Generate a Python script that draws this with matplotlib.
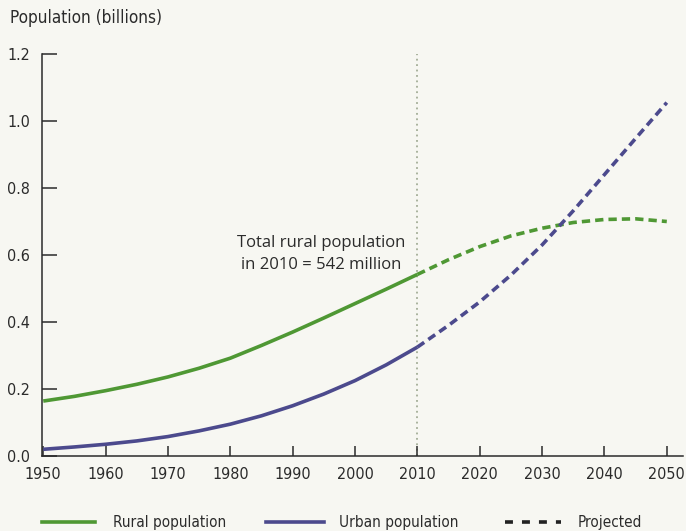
import matplotlib
matplotlib.use("Agg")
import matplotlib.pyplot as plt
from matplotlib.lines import Line2D

# values (billions)
years_hist = [1950, 1955, 1960, 1965, 1970, 1975, 1980, 1985, 1990, 1995, 2000, 2005, 2010]
rural_hist = [0.164, 0.178, 0.195, 0.214, 0.236, 0.262, 0.292, 0.330, 0.370, 0.412, 0.455, 0.498, 0.542]
urban_hist = [0.020, 0.027, 0.035, 0.045, 0.058, 0.075, 0.095, 0.120, 0.150, 0.185, 0.225, 0.272, 0.325]

years_proj = [2010, 2015, 2020, 2025, 2030, 2035, 2040, 2045, 2050]
rural_proj = [0.542, 0.586, 0.625, 0.657, 0.680, 0.697, 0.706, 0.708, 0.700]
urban_proj = [0.325, 0.390, 0.460, 0.540, 0.630, 0.732, 0.840, 0.948, 1.055]

xticks = list(range(1950, 2051, 10))
yticks = [0.0, 0.2, 0.4, 0.6, 0.8, 1.0, 1.2]

bg = "#f7f7f2"
green = "#4f9834"
purple = "#4c4a8d"
ink = "#2b2b2b"
narrow = dict(family="DejaVu Sans", stretch="condensed")

fig = plt.figure(figsize=(6.86, 5.31), dpi=100, facecolor=bg)
ax = fig.add_axes([42 / 686, 75 / 531, 641 / 686, 402 / 531], facecolor=bg)

lw = 2.6
dash = (0, (2.3, 1.4))
ax.plot(years_hist, rural_hist, color=green, lw=lw, solid_capstyle="butt")
ax.plot(years_hist, urban_hist, color=purple, lw=lw, solid_capstyle="butt")
ax.plot(years_proj, rural_proj, color=green, lw=lw, ls=dash)
ax.plot(years_proj, urban_proj, color=purple, lw=lw, ls=dash)

ax.axvline(2010, color="#a3ad97", lw=1.3, ls=(0, (1, 2)), zorder=0)

ax.text(1994.5, 0.603, "Total rural population\nin 2010 = 542 million",
        ha="center", va="center", fontsize=12, color=ink,
        linespacing=1.5, family=["Open Sans", "DejaVu Sans"])

ax.set_xlim(1949.8, 2052.6)
ax.set_ylim(0, 1.2)
ax.set_xticks(xticks)
ax.set_yticks(yticks)
ax.set_yticklabels([f"{v:.1f}" for v in yticks])

for s in ["top", "right"]:
    ax.spines[s].set_visible(False)
for s in ["left", "bottom"]:
    ax.spines[s].set_color(ink)
    ax.spines[s].set_linewidth(1.1)

ax.tick_params(axis="y", direction="in", length=11, width=1.1, color=ink,
               pad=8.5, labelsize=11.5)
ax.tick_params(axis="x", direction="in", length=7, width=1.1, color=ink,
               pad=8, labelsize=11.5)
for lab in ax.get_xticklabels() + ax.get_yticklabels():
    lab.set_family(narrow["family"])
    lab.set_stretch(narrow["stretch"])
    lab.set_color(ink)

fig.text(10 / 686, 1 - 18 / 531, "Population (billions)", ha="left", va="center",
         fontsize=12.3, color=ink, **narrow)

# legend along the bottom, laid out by hand
leg_y = 1 - 522 / 531
legend_items = [
    ("Rural population", green, "-", 42, 95, 113),
    ("Urban population", purple, "-", 266, 324, 339),
    ("Projected", "#222222", (0, (2.2, 2.5)), 505, 561, 578),
]
for label, col, style, x0, x1, xt in legend_items:
    fig.add_artist(Line2D([x0 / 686, x1 / 686], [leg_y, leg_y], color=col, lw=lw,
                          ls=style, transform=fig.transFigure))
    fig.text(xt / 686, leg_y, label, ha="left", va="center", fontsize=11,
             color=ink, **narrow)

fig.savefig("out.png", dpi=100, facecolor=bg)
